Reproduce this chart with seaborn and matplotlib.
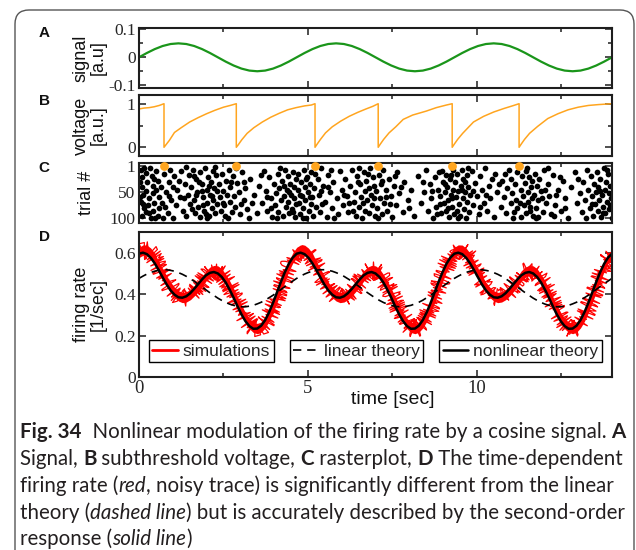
import numpy as np
import pandas as pd
import matplotlib
matplotlib.use("Agg")
import matplotlib.pyplot as plt
from matplotlib.patches import FancyBboxPatch
from matplotlib.transforms import IdentityTransform
from matplotlib.ticker import FixedLocator
from matplotlib.legend import Legend
from matplotlib.lines import Line2D
import seaborn as sns

# ---------------- data ----------------
# A: signal (a.u.), sampled every 7/30 s
t_signal = np.linspace(0, 14, 61)
signal = [
    0.0, 0.0155, 0.0294, 0.0405, 0.0476, 0.05, 0.0476, 0.0405, 0.0294, 0.0155,
    0.0, -0.0155, -0.0294, -0.0405, -0.0476, -0.05, -0.0476, -0.0405, -0.0294, -0.0155,
    0.0, 0.0155, 0.0294, 0.0405, 0.0476, 0.05, 0.0476, 0.0405, 0.0294, 0.0155,
    0.0, -0.0155, -0.0294, -0.0405, -0.0476, -0.05, -0.0476, -0.0405, -0.0294, -0.0155,
    0.0, 0.0155, 0.0294, 0.0405, 0.0476, 0.05, 0.0476, 0.0405, 0.0294, 0.0155,
    0.0, -0.0155, -0.0294, -0.0405, -0.0476, -0.05, -0.0476, -0.0405, -0.0294, -0.0155,
    0.0,
]

# B: subthreshold voltage of trial 1 (reset at each spike)
spike_times = [0.74, 2.88, 5.21, 7.08, 9.27, 11.25]
volt_t = [0.00, 0.15, 0.30, 0.45, 0.60, 0.74, 0.74,
          0.80, 0.90, 1.05, 1.25, 1.50, 1.75, 2.00, 2.25, 2.50, 2.70, 2.88, 2.88,
          2.94, 3.04, 3.20, 3.40, 3.65, 3.90, 4.15, 4.40, 4.65, 4.90, 5.10, 5.21, 5.21,
          5.27, 5.37, 5.52, 5.72, 5.97, 6.22, 6.47, 6.72, 6.92, 7.08, 7.08,
          7.14, 7.24, 7.40, 7.60, 7.82, 8.10, 8.50, 8.80, 9.10, 9.27, 9.27,
          9.33, 9.43, 9.58, 9.90, 10.20, 10.50, 10.80, 11.05, 11.25, 11.25,
          11.31, 11.41, 11.56, 11.80, 12.10, 12.40, 12.70, 13.00, 13.30, 13.60, 14.00]
volt_v = [0.88, 0.90, 0.91, 0.93, 0.96, 1.00, 0.00,
          0.06, 0.16, 0.34, 0.45, 0.58, 0.68, 0.77, 0.85, 0.92, 0.96, 1.00, 0.00,
          0.06, 0.17, 0.32, 0.45, 0.58, 0.69, 0.78, 0.86, 0.91, 0.95, 0.97, 1.00, 0.00,
          0.07, 0.18, 0.33, 0.47, 0.60, 0.71, 0.80, 0.88, 0.94, 1.00, 0.00,
          0.07, 0.18, 0.33, 0.47, 0.64, 0.74, 0.83, 0.91, 0.97, 1.00, 0.00,
          0.07, 0.18, 0.32, 0.58, 0.71, 0.81, 0.89, 0.95, 1.00, 0.00,
          0.07, 0.18, 0.32, 0.48, 0.66, 0.77, 0.86, 0.92, 0.96, 0.98, 1.00]

# C: raster (time [s], trial #)
raster = [
    (0.05, 8), (0.1, 22), (0.08, 40), (0.12, 55), (0.06, 68), (0.15, 80), (0.1, 95), (0.2, 14),
    (0.25, 30), (0.22, 47), (0.3, 62), (0.28, 75), (0.2, 88), (0.35, 100), (0.38, 20), (0.4, 38),
    (0.42, 52), (0.45, 70), (0.4, 86), (0.5, 10), (0.55, 28), (0.5, 45), (0.58, 60), (0.6, 80),
    (0.55, 95), (0.15, 5), (0.32, 5), (0.02, 30), (0.03, 60), (0.3, 90), (0.45, 25), (0.12, 72),
    (0.48, 100), (0.65, 40), (0.68, 70), (0.75, 15), (0.8, 50), (0.85, 90), (0.9, 30), (0.95, 65),
    (1.0, 100), (1.05, 20), (1.1, 75), (1.12, 45), (1.2, 60), (1.25, 10), (1.3, 85), (1.35, 35),
    (1.4, 95), (1.45, 55), (0.78, 78), (0.92, 8), (1.18, 28), (1.5, 72), (1.48, 18), (0.7, 100),
    (1.02, 40), (1.32, 62), (1.38, 3), (0.88, 58), (1.55, 40), (1.6, 8), (1.62, 65), (1.65, 90),
    (1.7, 25), (1.72, 50), (1.75, 78), (1.8, 12), (1.82, 98), (1.85, 35), (1.9, 60), (1.92, 85),
    (1.95, 5), (2.0, 45), (2.02, 70), (2.05, 22), (2.08, 95), (2.1, 55), (2.12, 30), (2.15, 80),
    (2.18, 10), (2.2, 65), (2.22, 42), (2.25, 90), (2.28, 18), (2.3, 72), (1.58, 82), (1.68, 55),
    (1.78, 30), (1.88, 75), (1.98, 92), (2.06, 38), (2.16, 58), (2.26, 3), (1.63, 20), (1.87, 48),
    (2.32, 48), (2.0, 100),
    (2.38, 35), (2.4, 60), (2.42, 85), (2.45, 15), (2.5, 48), (2.52, 75), (2.55, 95), (2.58, 28),
    (2.6, 55), (2.65, 8), (2.68, 68), (2.7, 40), (2.75, 88), (2.78, 20), (2.8, 58), (2.85, 78),
    (2.9, 32), (2.95, 50), (3.0, 92), (3.05, 12), (3.1, 65), (3.15, 42), (3.2, 82), (3.3, 25),
    (3.4, 55), (3.5, 90), (3.55, 38), (3.65, 70), (3.7, 10), (3.75, 48), (3.8, 85), (3.85, 22),
    (3.9, 62), (3.95, 98), (4.0, 35), (4.02, 75), (4.05, 52), (4.1, 15), (4.12, 88), (4.15, 42),
    (4.2, 65), (4.22, 28), (4.25, 95), (4.3, 58), (4.32, 8), (4.35, 78), (4.38, 45), (4.4, 20),
    (4.42, 68), (4.45, 90), (4.48, 35), (4.5, 55), (4.52, 82), (4.55, 12), (4.58, 62), (4.6, 40),
    (4.62, 98), (4.65, 25), (4.66, 72), (2.62, 100), (2.88, 4), (3.25, 100), (3.6, 18), (3.02, 72),
    (3.78, 60), (4.08, 100), (4.28, 38), (4.44, 50), (2.72, 30), (2.48, 70), (3.92, 80), (4.18, 5),
    (4.56, 88), (3.35, 70), (3.12, 30),
    (4.7, 15), (4.72, 45), (4.75, 70), (4.78, 92), (4.8, 30), (4.82, 58), (4.85, 80), (4.88, 8),
    (4.9, 40), (4.92, 65), (4.95, 100), (4.98, 22), (5.0, 50), (5.02, 85), (5.05, 35), (5.08, 72),
    (5.1, 12), (5.12, 60), (5.15, 95), (5.18, 42), (5.25, 78), (5.3, 25), (5.32, 55), (5.35, 88),
    (5.4, 5), (5.45, 38), (5.5, 68), (5.55, 98), (5.6, 18), (5.65, 50), (5.7, 80), (5.75, 30),
    (5.85, 62), (5.9, 92), (5.95, 10), (6.0, 45), (6.05, 75), (6.1, 25), (6.15, 58), (6.2, 88),
    (6.25, 38), (6.3, 8), (6.35, 68), (6.4, 50), (6.42, 95), (6.45, 20), (6.5, 78), (6.55, 35),
    (6.58, 60), (6.6, 100), (6.65, 12), (6.68, 48), (6.7, 85), (6.72, 28), (6.75, 65), (6.8, 42),
    (6.82, 90), (6.85, 5), (6.88, 55), (6.9, 75), (6.92, 22), (6.95, 38), (6.98, 95), (4.76, 55),
    (4.94, 25), (5.06, 60), (5.22, 15), (5.42, 72), (5.58, 40), (5.78, 100), (6.08, 55), (6.32, 85),
    (6.52, 5), (6.62, 70), (6.78, 15), (4.86, 100), (5.38, 48), (5.68, 8), (6.22, 70), (6.48, 30),
    (6.96, 62),
    (7.02, 48), (7.05, 80), (7.1, 18), (7.12, 62), (7.15, 35), (7.2, 92), (7.22, 8), (7.25, 70),
    (7.3, 45), (7.35, 85), (7.4, 25), (7.45, 58), (7.5, 98), (7.55, 38), (7.6, 75), (7.65, 12),
    (7.7, 52), (7.8, 88), (7.85, 30), (7.95, 65), (8.05, 45), (8.15, 95), (8.25, 20), (8.35, 70),
    (8.45, 50), (8.5, 8), (8.55, 85), (8.6, 35), (8.65, 62), (8.7, 100), (8.75, 22), (8.8, 78),
    (8.85, 45), (8.88, 12), (8.9, 58), (8.95, 90), (9.0, 30), (9.02, 70), (9.05, 50), (9.08, 18),
    (9.1, 85), (9.12, 40), (9.15, 65), (9.18, 98), (9.2, 25), (9.22, 55), (9.25, 78), (9.28, 8),
    (9.3, 45), (9.32, 92), (7.08, 100), (7.32, 60), (7.58, 20), (7.75, 40), (8.0, 80), (8.4, 30),
    (8.68, 48), (8.82, 92), (8.98, 10), (9.06, 35), (9.16, 80), (9.26, 62), (7.18, 28), (7.42, 72),
    (8.92, 72), (9.24, 18),
    (9.35, 30), (9.38, 60), (9.4, 85), (9.42, 15), (9.45, 48), (9.48, 72), (9.5, 95), (9.52, 38),
    (9.55, 8), (9.58, 62), (9.6, 25), (9.62, 82), (9.65, 50), (9.68, 100), (9.7, 18), (9.72, 68),
    (9.75, 40), (9.78, 88), (9.8, 55), (9.85, 10), (9.9, 75), (9.95, 32), (10.0, 58), (10.05, 92),
    (10.1, 20), (10.15, 45), (10.2, 70), (10.25, 5), (10.3, 85), (10.35, 38), (10.4, 62), (10.5, 98),
    (10.55, 15), (10.6, 50), (10.7, 78), (10.75, 28), (10.8, 60), (10.85, 90), (10.9, 42), (10.95, 8),
    (11.0, 70), (11.02, 25), (11.05, 52), (11.1, 88), (11.12, 35), (11.15, 65), (11.18, 12), (11.2, 80),
    (11.3, 45), (11.32, 98), (11.35, 20), (11.38, 58), (11.4, 75), (11.42, 32), (11.45, 90), (11.48, 5),
    (11.5, 50), (11.52, 68), (11.55, 22), (11.58, 85), (11.6, 40), (11.62, 62), (11.65, 95), (9.44, 100),
    (9.56, 45), (9.66, 30), (9.74, 5), (9.88, 48), (10.08, 78), (10.28, 55), (10.45, 25), (10.65, 35),
    (10.82, 15), (11.08, 100), (11.28, 70), (11.44, 10), (11.56, 78), (11.64, 28),
    (11.7, 55), (11.72, 15), (11.75, 80), (11.78, 38), (11.8, 98), (11.82, 65), (11.85, 25), (11.9, 48),
    (11.95, 88), (12.0, 8), (12.05, 70), (12.1, 35), (12.15, 58), (12.2, 92), (12.25, 18), (12.3, 75),
    (12.4, 45), (12.5, 85), (12.55, 28), (12.6, 62), (12.7, 100), (12.8, 40), (12.9, 12), (12.95, 70),
    (13.05, 52), (13.1, 88), (13.15, 30), (13.2, 65), (13.25, 8), (13.3, 45), (13.35, 80), (13.38, 20),
    (13.4, 58), (13.45, 95), (13.48, 35), (13.5, 72), (13.52, 50), (13.55, 12), (13.58, 85), (13.6, 40),
    (13.62, 65), (13.65, 25), (13.68, 98), (13.7, 55), (13.72, 78), (13.75, 5), (13.78, 45), (13.8, 90),
    (13.82, 30), (13.85, 68), (13.88, 15), (13.9, 52), (13.92, 82), (13.95, 38), (13.97, 62), (13.99, 100),
    (11.76, 100), (11.92, 62), (12.12, 5), (12.35, 55), (12.45, 22), (12.62, 80), (13.0, 25), (13.22, 100),
    (13.42, 72), (13.64, 48), (13.74, 90), (13.86, 8), (13.94, 75), (12.02, 45), (12.28, 95),
]

# D: firing rate [1/s], sampled every 7/60 s
t_rate = np.linspace(0, 14, 121)
sim_rate = [
    0.604, 0.616, 0.615, 0.600, 0.575, 0.535, 0.501, 0.466, 0.435, 0.410,
    0.393, 0.385, 0.388, 0.399, 0.417, 0.439, 0.462, 0.490, 0.508, 0.516,
    0.514, 0.500, 0.472, 0.441, 0.404, 0.363, 0.323, 0.287, 0.258, 0.240,
    0.234, 0.241, 0.262, 0.294, 0.336, 0.385, 0.436, 0.485, 0.537, 0.577,
    0.604, 0.616, 0.615, 0.600, 0.575, 0.535, 0.501, 0.466, 0.435, 0.410,
    0.393, 0.385, 0.388, 0.399, 0.417, 0.439, 0.462, 0.490, 0.508, 0.516,
    0.514, 0.500, 0.472, 0.441, 0.404, 0.363, 0.323, 0.287, 0.258, 0.240,
    0.234, 0.241, 0.262, 0.294, 0.336, 0.385, 0.436, 0.485, 0.537, 0.577,
    0.604, 0.616, 0.615, 0.600, 0.575, 0.535, 0.501, 0.466, 0.435, 0.410,
    0.393, 0.385, 0.388, 0.399, 0.417, 0.439, 0.462, 0.490, 0.508, 0.516,
    0.514, 0.500, 0.472, 0.441, 0.404, 0.363, 0.323, 0.287, 0.258, 0.240,
    0.234, 0.241, 0.262, 0.294, 0.336, 0.385, 0.436, 0.485, 0.537, 0.577,
    0.590,
]
sim_noise = 0.025
linear_rate = [
    0.478, 0.489, 0.499, 0.507, 0.513, 0.518, 0.520, 0.520, 0.517, 0.513,
    0.506, 0.498, 0.488, 0.476, 0.464, 0.450, 0.436, 0.422, 0.408, 0.395,
    0.382, 0.371, 0.361, 0.353, 0.347, 0.342, 0.340, 0.340, 0.343, 0.347,
    0.354, 0.362, 0.372, 0.384, 0.396, 0.410, 0.424, 0.438, 0.452, 0.465,
    0.478, 0.489, 0.499, 0.507, 0.513, 0.518, 0.520, 0.520, 0.517, 0.513,
    0.506, 0.498, 0.488, 0.476, 0.464, 0.450, 0.436, 0.422, 0.408, 0.395,
    0.382, 0.371, 0.361, 0.353, 0.347, 0.342, 0.340, 0.340, 0.343, 0.347,
    0.354, 0.362, 0.372, 0.384, 0.396, 0.410, 0.424, 0.438, 0.452, 0.465,
    0.478, 0.489, 0.499, 0.507, 0.513, 0.518, 0.520, 0.520, 0.517, 0.513,
    0.506, 0.498, 0.488, 0.476, 0.464, 0.450, 0.436, 0.422, 0.408, 0.395,
    0.382, 0.371, 0.361, 0.353, 0.347, 0.342, 0.340, 0.340, 0.343, 0.347,
    0.354, 0.362, 0.372, 0.384, 0.396, 0.410, 0.424, 0.438, 0.452, 0.465,
    0.478,
]
nonlinear_rate = [
    0.598, 0.603, 0.596, 0.578, 0.551, 0.518, 0.483, 0.449, 0.420, 0.399,
    0.386, 0.384, 0.391, 0.406, 0.427, 0.450, 0.473, 0.493, 0.505, 0.509,
    0.502, 0.485, 0.458, 0.423, 0.384, 0.342, 0.303, 0.270, 0.246, 0.233,
    0.234, 0.248, 0.275, 0.313, 0.359, 0.410, 0.461, 0.508, 0.549, 0.579,
    0.598, 0.603, 0.596, 0.578, 0.551, 0.518, 0.483, 0.449, 0.420, 0.399,
    0.386, 0.384, 0.391, 0.406, 0.427, 0.450, 0.473, 0.493, 0.505, 0.509,
    0.502, 0.485, 0.458, 0.423, 0.384, 0.342, 0.303, 0.270, 0.246, 0.233,
    0.234, 0.248, 0.275, 0.313, 0.359, 0.410, 0.461, 0.508, 0.549, 0.579,
    0.598, 0.603, 0.596, 0.578, 0.551, 0.518, 0.483, 0.449, 0.420, 0.399,
    0.386, 0.384, 0.391, 0.406, 0.427, 0.450, 0.473, 0.493, 0.505, 0.509,
    0.502, 0.485, 0.458, 0.423, 0.384, 0.342, 0.303, 0.270, 0.246, 0.233,
    0.234, 0.248, 0.275, 0.313, 0.359, 0.410, 0.461, 0.508, 0.549, 0.579,
    0.598,
]
legend_labels = ["simulations", "linear theory", "nonlinear theory"]

caption = [
    [("Fig. 34", "bold", "normal"),
     ("  Nonlinear modulation of the firing rate by a cosine signal. ", "normal", "normal"),
     ("A", "bold", "normal")],
    [("Signal, ", "normal", "normal"), ("B", "bold", "normal"),
     (" subthreshold voltage, ", "normal", "normal"), ("C", "bold", "normal"),
     (" rasterplot, ", "normal", "normal"), ("D", "bold", "normal"),
     (" The time-dependent", "normal", "normal")],
    [("firing rate (", "normal", "normal"), ("red", "normal", "italic"),
     (", noisy trace) is significantly different from the linear", "normal", "normal")],
    [("theory (", "normal", "normal"), ("dashed line", "normal", "italic"),
     (") but is accurately described by the second-order", "normal", "normal")],
    [("response (", "normal", "normal"), ("solid line", "normal", "italic"),
     (")", "normal", "normal")],
]

# ---------------- figure ----------------
sns.set_style("ticks")
plt.rcParams["font.family"] = ["Liberation Sans", "DejaVu Sans"]
plt.rcParams["axes.unicode_minus"] = False

W, H = 636, 550
fig = plt.figure(figsize=(W / 100, H / 100), dpi=100)
fig.patch.set_facecolor("white")


def box(top, bottom, left=139, right=612):
    return [left / W, 1 - bottom / H, (right - left) / W, (bottom - top) / H]


axA = fig.add_axes(box(28, 88))
axB = fig.add_axes(box(95, 156))
axC = fig.add_axes(box(162.7, 222.7))
axD = fig.add_axes(box(231.7, 376.7))

frame_col = "#1e1e1e"
serif = "Liberation Serif"
for ax in (axA, axB, axC, axD):
    ax.set_xlim(0, 14)
    ax.xaxis.set_major_locator(FixedLocator([0, 5, 10]))
    ax.xaxis.set_minor_locator(FixedLocator([2.5, 7.5, 12.5]))
    for sp in ax.spines.values():
        sp.set_linewidth(1.5)
        sp.set_color(frame_col)
    ax.tick_params(which="both", direction="in", top=True, right=True,
                   color=frame_col, width=1.1, labelsize=12.5,
                   labelfontfamily=serif, pad=2.5)
    ax.tick_params(which="major", length=5)
    ax.tick_params(which="minor", length=3)
    if ax is not axD:
        ax.tick_params(labelbottom=False)

# A
sns.lineplot(x=t_signal, y=signal, ax=axA, color="#1a951a", lw=1.6)
axA.set_ylim(-0.11, 0.105)
axA.yaxis.set_major_locator(FixedLocator([-0.1, 0, 0.1]))
axA.yaxis.set_minor_locator(FixedLocator([-0.05, 0.05]))
axA.set_yticklabels(["-0.1", "0", "0.1"])

# B
sns.lineplot(x=volt_t, y=volt_v, ax=axB, color="#ffa51f", lw=1.1,
             sort=False, estimator=None)
axB.set_ylim(-0.2, 1.2)
axB.yaxis.set_major_locator(FixedLocator([0, 1]))
axB.yaxis.set_minor_locator(FixedLocator([0.5]))
axB.set_yticklabels(["0", "1"])

# C
raster_df = pd.DataFrame(raster, columns=["time", "trial"])
sns.scatterplot(data=raster_df, x="time", y="trial", ax=axC, color="black",
                s=17, linewidth=0)
sns.scatterplot(x=spike_times, y=[1] * len(spike_times), ax=axC,
                color="#ffa51f", s=40, linewidth=0, zorder=3, clip_on=False)
axC.set_ylim(108, -6)
axC.yaxis.set_major_locator(FixedLocator([1, 50, 100]))
axC.set_yticklabels(["1", "50", "100"])
axC.set_xlabel("")
axC.set_ylabel("")

# D
sim = np.array(sim_rate)
band = pd.DataFrame({"t": np.concatenate([t_rate, t_rate]),
                     "rate": np.concatenate([sim - sim_noise, sim + sim_noise])})
sns.lineplot(data=band, x="t", y="rate", ax=axD, color="red", lw=1.0,
             estimator="mean", errorbar=("pi", 100),
             err_kws={"alpha": 1, "linewidth": 0})
sns.lineplot(x=t_rate, y=sim_rate, ax=axD, color="red", lw=0.9)
axD.lines[-1].set_sketch_params(scale=9, length=1.2, randomness=2)
sns.lineplot(x=t_rate, y=linear_rate, ax=axD, color="black", lw=1.2,
             dashes=False, linestyle=(0, (5, 3.5)))
sns.lineplot(x=t_rate, y=nonlinear_rate, ax=axD, color="black", lw=1.8)
axD.set_ylim(0, 0.705)
axD.yaxis.set_major_locator(FixedLocator([0, 0.2, 0.4, 0.6]))
axD.set_yticklabels(["0", "0.2", "0.4", "0.6"])
axD.set_xticklabels(["0", "5", "10"])
axD.tick_params(axis="x", labelsize=13.5)

handles = [Line2D([], [], color="red", lw=2),
           Line2D([], [], color="black", lw=1.2, linestyle=(0, (5, 3.5))),
           Line2D([], [], color="black", lw=1.8)]
for h, lab, xc in zip(handles, legend_labels, [0.153, 0.46, 0.807]):
    leg = Legend(axD, [h], [lab], loc="center", bbox_to_anchor=(xc, 0.175),
                 frameon=True, fancybox=False, edgecolor="black", framealpha=1,
                 prop={"family": "Liberation Sans", "size": 12.5},
                 handlelength=1.45, handletextpad=0.3, borderpad=0.2,
                 borderaxespad=0)
    leg.get_frame().set_linewidth(1.0)
    axD.add_artist(leg)

# axis labels
lab_kw = dict(fontsize=13, linespacing=1.0, color="#111111")
axA.set_ylabel("signal\n[a.u]", **lab_kw)
axB.set_ylabel("voltage\n[a.u.]", **lab_kw)
axC.set_ylabel("trial #", **lab_kw)
axD.set_ylabel("firing rate\n[1/sec]", **lab_kw)
axA.yaxis.set_label_coords(-0.068, 0.5)
axB.yaxis.set_label_coords(-0.068, 0.5)
axC.yaxis.set_label_coords(-0.092, 0.5)
axD.yaxis.set_label_coords(-0.068, 0.5)
axD.set_xlabel("time [sec]", fontsize=14, color="#111111")
axD.xaxis.set_label_coords(0.537, -0.098)
for ax in (axA, axB, axC):
    ax.set_xlabel("")

# panel letters
for letter, ytop in zip("ABCD", [33, 101, 168, 237]):
    fig.text(44 / W, 1 - ytop / H, letter, fontsize=11, fontweight="bold",
             ha="center", va="center", color="#111111")

# rounded frame around figure + caption
border = FancyBboxPatch((15, -30), 619, 570,
                        boxstyle="round,pad=0,rounding_size=14",
                        transform=IdentityTransform(), fill=False,
                        edgecolor="#555555", lw=1.0)
fig.add_artist(border)

# caption
renderer = fig.canvas.get_renderer()
cap_font = "Lato"


def text_width(s, size, weight, style):
    kw = dict(fontsize=size, fontweight=weight, fontstyle=style, family=cap_font)
    a = fig.text(0, 0, "x" + s + "x", **kw)
    b = fig.text(0, 0, "xx", **kw)
    w = a.get_window_extent(renderer).width - b.get_window_extent(renderer).width
    a.remove()
    b.remove()
    return w


line1_w = sum(text_width(s, 10, wt, st) for s, wt, st in caption[0])
cap_size = 10 * (627 - 20) / line1_w
for i, parts in enumerate(caption):
    x = 20
    y = H - (438.5 + 26.7 * i)
    for s, wt, st in parts:
        fig.text(x, y, s, transform=IdentityTransform(), fontsize=cap_size,
                 fontweight=wt, fontstyle=st, family=cap_font,
                 color="#231f20", ha="left", va="baseline")
        x += text_width(s, cap_size, wt, st)

fig.savefig("out.png", dpi=100, facecolor="white")
